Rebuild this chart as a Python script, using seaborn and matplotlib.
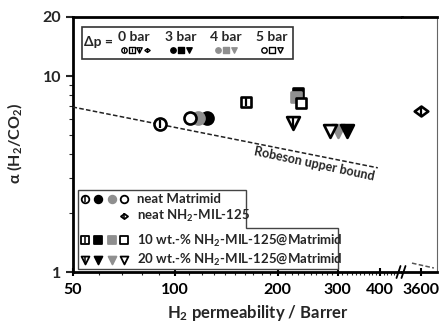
import numpy as np
import pandas as pd
import seaborn as sns
import matplotlib.pyplot as plt
import matplotlib.ticker as mt
from matplotlib.path import Path
from matplotlib.patches import Polygon, Rectangle
from matplotlib.lines import Line2D

sns.set_theme(style='white')
plt.rcParams['font.family'] = ['Lato', 'DejaVu Sans']
plt.rcParams['font.weight'] = 'bold'
plt.rcParams['mathtext.default'] = 'regular'

# ---------------- data ----------------
pressures = ['0 bar', '3 bar', '4 bar', '5 bar']
matrimid_P = [90.3, 124.0, 116.8, 110.6]
matrimid_a = [5.69, 6.10, 6.10, 6.10]
mof_P = [3600.0]
mof_a = [6.63]
mmm10_P = [161.6, 229.7, 226.5, 234.5]
mmm10_a = [7.37, 8.19, 7.81, 7.28]
mmm20_P = [222.0, 320.0, 301.0, 285.0]
mmm20_a = [5.75, 5.24, 5.24, 5.24]
robeson_P = [50.0, 394.0]
robeson_a = [6.95, 3.40]
robeson_far_P = [3388.0, 3932.0]
robeson_far_a = [1.11, 1.048]
xticks_left = [50, 100, 200, 300, 400]
xticks_right = [3600]
yticks = [1, 10, 20]

# ---------------- styles ----------------
GREY = '#8f8f8f'
faces = ['white', 'black', GREY, 'white']
edges = ['black', 'black', GREY, 'black']
phi = [True, False, False, False]
diamond = Path([(-1.3, 0), (0, 0.95), (1.3, 0), (0, -0.95), (-1.3, 0)],
               [Path.MOVETO, Path.LINETO, Path.LINETO, Path.LINETO, Path.CLOSEPOLY])

W, H = 440, 332
fig = plt.figure(figsize=(W / 100, H / 100), dpi=100)
fx = lambda px: px / W
fy = lambda py: 1 - py / H

axL = fig.add_axes([fx(72.5), fy(272), (402 - 72.5) / W, 255 / H])
axR = fig.add_axes([fx(402), fy(272), 35 / W, 255 / H], sharey=axL)

def scatter(ax, P, a, marker, face, edge, s, bar):
    sns.scatterplot(x=P, y=a, ax=ax, marker=marker, s=s, color=face,
                    edgecolor=edge, linewidth=1.9, zorder=5, legend=False)
    if bar:
        sns.scatterplot(x=P, y=a, ax=ax, marker='|', s=s * 0.5, color='black',
                        linewidth=1.6, zorder=6, legend=False)

order = [1, 2, 3, 0]
for i in order:
    scatter(axL, [matrimid_P[i]], [matrimid_a[i]], 'o', faces[i], edges[i], 75, phi[i])
for i in order:
    scatter(axL, [mmm10_P[i]], [mmm10_a[i]], 's', faces[i], edges[i], 62, phi[i])
for i in [2, 1, 3, 0]:
    scatter(axL, [mmm20_P[i]], [mmm20_a[i]], 'v', faces[i], edges[i], 85, phi[i])
scatter(axR, mof_P, mof_a, diamond, 'white', 'black', 95, True)

sns.lineplot(x=robeson_P, y=robeson_a, ax=axL, color='#222222', linewidth=1.1,
             linestyle=(0, (3, 1.5)), zorder=3)
sns.lineplot(x=robeson_far_P, y=robeson_far_a, ax=axR, color='#555555', linewidth=1.1,
             linestyle=(0, (3, 1.5)), zorder=3)

for ax in (axL, axR):
    ax.set_xscale('log')
    ax.set_yscale('log')
    ax.set_facecolor('white')
    ax.set_xlabel('')
    ax.set_ylabel('')
axL.set_xlim(50, 464)
axR.set_xlim(3166, 4016)
axL.set_ylim(1, 20)

axL.xaxis.set_major_locator(mt.FixedLocator(xticks_left))
axL.xaxis.set_major_formatter(mt.FixedFormatter([str(v) for v in xticks_left]))
axL.xaxis.set_minor_locator(mt.FixedLocator([v for v in range(60, 460, 10) if v not in xticks_left]))
axL.xaxis.set_minor_formatter(mt.NullFormatter())
axR.xaxis.set_major_locator(mt.FixedLocator(xticks_right))
axR.xaxis.set_major_formatter(mt.FixedFormatter([str(v) for v in xticks_right]))
axR.xaxis.set_minor_locator(mt.NullLocator())
axL.yaxis.set_major_locator(mt.FixedLocator(yticks))
axL.yaxis.set_major_formatter(mt.FixedFormatter([str(v) for v in yticks]))
axL.yaxis.set_minor_locator(mt.FixedLocator([2, 3, 4, 5, 6, 7, 8, 9]))
axL.yaxis.set_minor_formatter(mt.NullFormatter())

for ax in (axL, axR):
    ax.tick_params(axis='x', which='major', direction='inout', length=6, width=1.5,
                   labelsize=11.5, pad=5, colors='black', bottom=True)
    ax.tick_params(axis='x', which='minor', direction='out', length=2, width=0.8, bottom=True)
    for lab in ax.get_xticklabels():
        lab.set_fontweight('bold')
axL.tick_params(axis='y', which='major', direction='out', length=5, width=1.5,
                labelsize=11.5, pad=3, left=True)
axL.tick_params(axis='y', which='minor', direction='out', length=3, width=0.8, left=True)
for lab in axL.get_yticklabels():
    lab.set_fontweight('bold')
axR.tick_params(axis='y', which='both', left=False, labelleft=False, right=False)

for sp in ['left', 'bottom', 'top']:
    axL.spines[sp].set_linewidth(2)
    axL.spines[sp].set_color('black')
axL.spines['right'].set_visible(False)
axR.spines['left'].set_visible(False)
for sp in ['bottom', 'top']:
    axR.spines[sp].set_linewidth(2)
    axR.spines[sp].set_color('black')
axR.spines['right'].set_linewidth(0.8)
axR.spines['right'].set_color('#666666')

# Robeson label
axL.text(257, 3.55, 'Robeson upper bound', rotation=-12, ha='center', va='center',
         fontsize=9, fontweight='bold', zorder=4)

# ---------------- overlay in pixel coordinates (legends, labels, break) ----------------
ov = fig.add_axes([0, 0, 1, 1], zorder=10)
ov.set_xlim(0, W)
ov.set_ylim(H, 0)
ov.axis('off')
ov.patch.set_alpha(0)

for x0 in (396.5, 401.5):
    ov.add_line(Line2D([x0, x0 + 4], [278, 266], color='black', lw=1.3))

ov.text(258, 313, r'H$_2$ permeability / Barrer', ha='center', va='center',
        fontsize=12, fontweight='bold')
ov.text(15, 143, r'α (H$_2$/CO$_2$)', ha='center', va='center',
        fontsize=11.5, fontweight='bold', rotation=90)

ov.add_patch(Rectangle((82, 27), 211, 32, facecolor='white', edgecolor='#333333', lw=1.2))
ov.text(99, 42, 'Δp =', ha='center', va='center', fontsize=10, fontweight='bold')
cent = [134, 181, 226, 272]
for k, c in enumerate(cent):
    ov.text(c, 37, pressures[k], ha='center', va='center', fontsize=10, fontweight='bold')

def legmark(px, py, marker, face, edge, s, bar, lw=1.3):
    ov.scatter([px], [py], marker=marker, s=s, facecolor=face, edgecolor=edge,
               linewidth=lw, zorder=12, clip_on=False)
    if bar:
        ov.scatter([px], [py], marker='|', s=s * 0.5, color='black', linewidth=lw * 0.85,
                   zorder=13, clip_on=False)

small = 15
for j, m in enumerate(['o', 's', 'v', diamond]):
    legmark(124 + 7.5 * j, 49.5, m, 'white', 'black', small if j < 3 else 14, True, lw=1.0)
for k in (1, 2, 3):
    for j, m in enumerate(['o', 's', 'v']):
        legmark(cent[k] - 8 + 8 * j, 49.5, m, faces[k], edges[k], small, False, lw=1.0)

poly = [(78, 190), (246, 190), (246, 228), (338, 228), (338, 269), (78, 269)]
ov.add_patch(Polygon(poly, closed=True, facecolor='white', edgecolor='#444444', lw=1.0))
rows = [199, 216, 240, 259.5]
labels = ['neat Matrimid', r'neat NH$_2$-MIL-125',
          r'10 wt.-% NH$_2$-MIL-125@Matrimid', r'20 wt.-% NH$_2$-MIL-125@Matrimid']
for r, t in zip(rows, labels):
    ov.text(137, r, t, ha='left', va='center', fontsize=9.5, fontweight='bold')
mx = [85, 98, 112, 124]
for j in range(4):
    legmark(mx[j], 199, 'o', faces[j], edges[j], 30, phi[j])
    legmark(mx[j], 240, 's', faces[j], edges[j], 28, phi[j])
    legmark(mx[j], 259.5, 'v', faces[j], edges[j], 32, phi[j])
legmark(124, 216, diamond, 'white', 'black', 26, True)

fig.savefig('out.png', dpi=100, facecolor='white')
